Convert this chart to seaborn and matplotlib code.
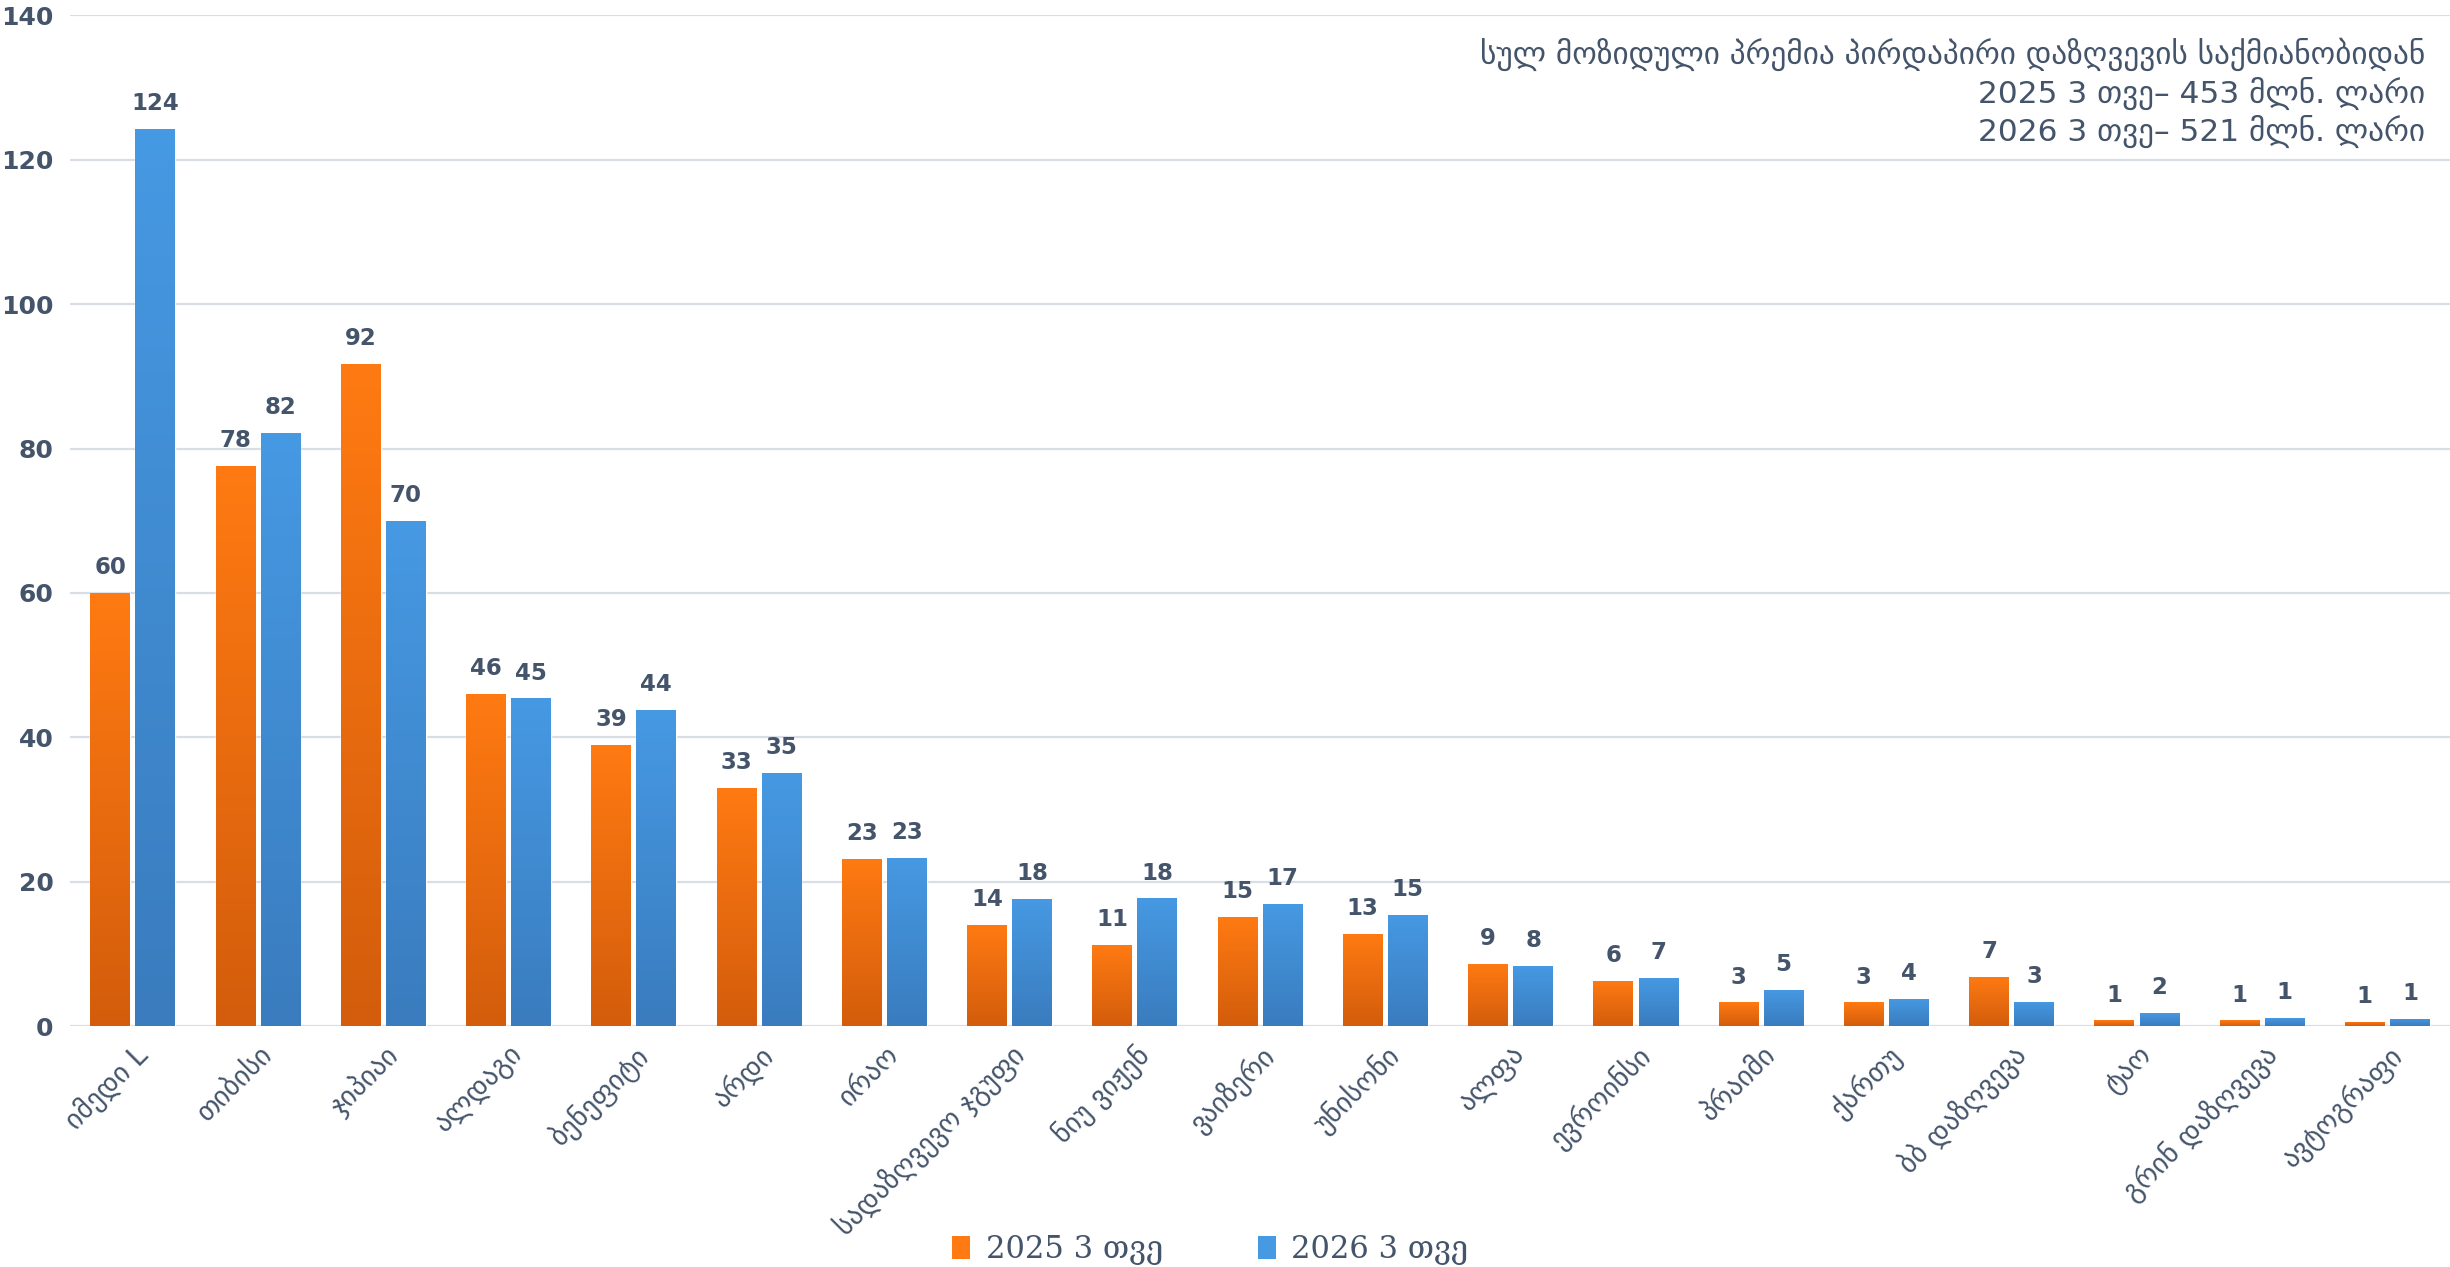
import numpy as np
import pandas as pd
import seaborn as sns
import matplotlib.pyplot as plt
from matplotlib.colors import LinearSegmentedColormap
from matplotlib.patches import Patch

# Categories (companies) and values, mln GEL
companies = [
    "იმედი L", "თიბისი", "ჯიპიაი", "ალდაგი", "ბენეფიტი", "არდი", "ირაო",
    "სადაზღვევო ჯგუფი", "ნიუ ვიჟენ", "ვაიზერი", "უნისონი", "ალფა",
    "ევროინსი", "პრაიმი", "ქართუ", "ბბ დაზღვევა", "ტაო", "გრინ დაზღვევა",
    "ავტოგრაფი",
]
values_2025 = [60.0, 77.6, 91.7, 46.0, 39.0, 33.0, 23.2, 14.0, 11.2, 15.1,
               12.8, 8.6, 6.3, 3.3, 3.3, 6.8, 0.8, 0.8, 0.6]
values_2026 = [124.2, 82.1, 70.0, 45.4, 43.8, 35.1, 23.3, 17.6, 17.7, 16.9,
               15.4, 8.3, 6.7, 5.0, 3.8, 3.4, 1.8, 1.1, 1.0]
series = ["2025 3 თვე", "2026 3 თვე"]

title_lines = [
    "სულ მოზიდული პრემია პირდაპირი დაზღვევის საქმიანობიდან",
    "2025 3 თვე– 453 მლნ. ლარი",
    "2026 3 თვე– 521 მლნ. ლარი",
]

df = pd.DataFrame({
    "company": companies * 2,
    "value": values_2025 + values_2026,
    "period": [series[0]] * len(companies) + [series[1]] * len(companies),
})

text_color = "#44546A"
orange_top, orange_bot = "#FF7A12", "#D35D0C"
blue_top, blue_bot = "#4699E3", "#3A7CBE"

sns.set_style("white")
plt.rcParams["font.family"] = ["DejaVu Sans"]

fig = plt.figure(figsize=(24.5, 12.67), dpi=100)
ax = fig.add_axes([0.0286, 0.19, 0.9714, 0.798])

sns.barplot(data=df, x="company", y="value", hue="period",
            palette=[orange_top, blue_top], width=0.72, gap=0.12,
            saturation=1, legend=False, ax=ax)

ax.set_ylim(0, 140)
ax.set_yticks(range(0, 141, 20))
ax.set_xlim(-0.5, len(companies) - 0.5)
ax.yaxis.grid(True, color="#D9DEE6", linewidth=1.6)
ax.set_axisbelow(True)
for s in ax.spines.values():
    s.set_visible(False)
ax.tick_params(axis="both", length=0)
ax.tick_params(axis="y", pad=12, labelsize=18, labelcolor=text_color)
for lab in ax.get_yticklabels():
    lab.set_fontweight("bold")
ax.set_xlabel("")
ax.set_ylabel("")
ax.set_xticks(range(len(companies)))
ax.set_xticklabels(companies, rotation=45, ha="right", rotation_mode="anchor",
                   fontsize=20, color=text_color)
ax.tick_params(axis="x", pad=10)

# value labels
for cont in ax.containers:
    ax.bar_label(cont, labels=[f"{b.get_height():.0f}" for b in cont],
                 padding=10, fontsize=16.5, fontweight="bold", color=text_color)

# vertical gradient inside every bar
xl, yl = ax.get_xlim(), ax.get_ylim()
grad = np.linspace(0, 1, 256).reshape(-1, 1)
cmaps = [LinearSegmentedColormap.from_list("o", [orange_bot, orange_top]),
         LinearSegmentedColormap.from_list("b", [blue_bot, blue_top])]
for cont, cmap in zip(ax.containers, cmaps):
    for bar in cont:
        x, w, h = bar.get_x(), bar.get_width(), bar.get_height()
        im = ax.imshow(grad, cmap=cmap, origin="lower", aspect="auto",
                       extent=[x, x + w, 0, h], zorder=bar.get_zorder() + 0.1)
        im.set_clip_path(bar)
ax.set_xlim(xl)
ax.set_ylim(yl)

# title block, top right
fig.text(0.99, 0.97, "\n".join(title_lines), ha="right", va="top",
         fontsize=22.5, color=text_color, linespacing=1.2)

# legend at the bottom
handles = [Patch(facecolor=orange_top, edgecolor="none"),
           Patch(facecolor=blue_top, edgecolor="none")]
fig.legend(handles, series, loc="lower center", bbox_to_anchor=(0.494, -0.02),
           ncol=2, frameon=False, handlelength=0.6, handleheight=0.8,
           columnspacing=3.1, handletextpad=0.5,
           prop={"family": ["DejaVu Serif"], "size": 22}, labelcolor=text_color)

fig.savefig("out.png", dpi=100)
